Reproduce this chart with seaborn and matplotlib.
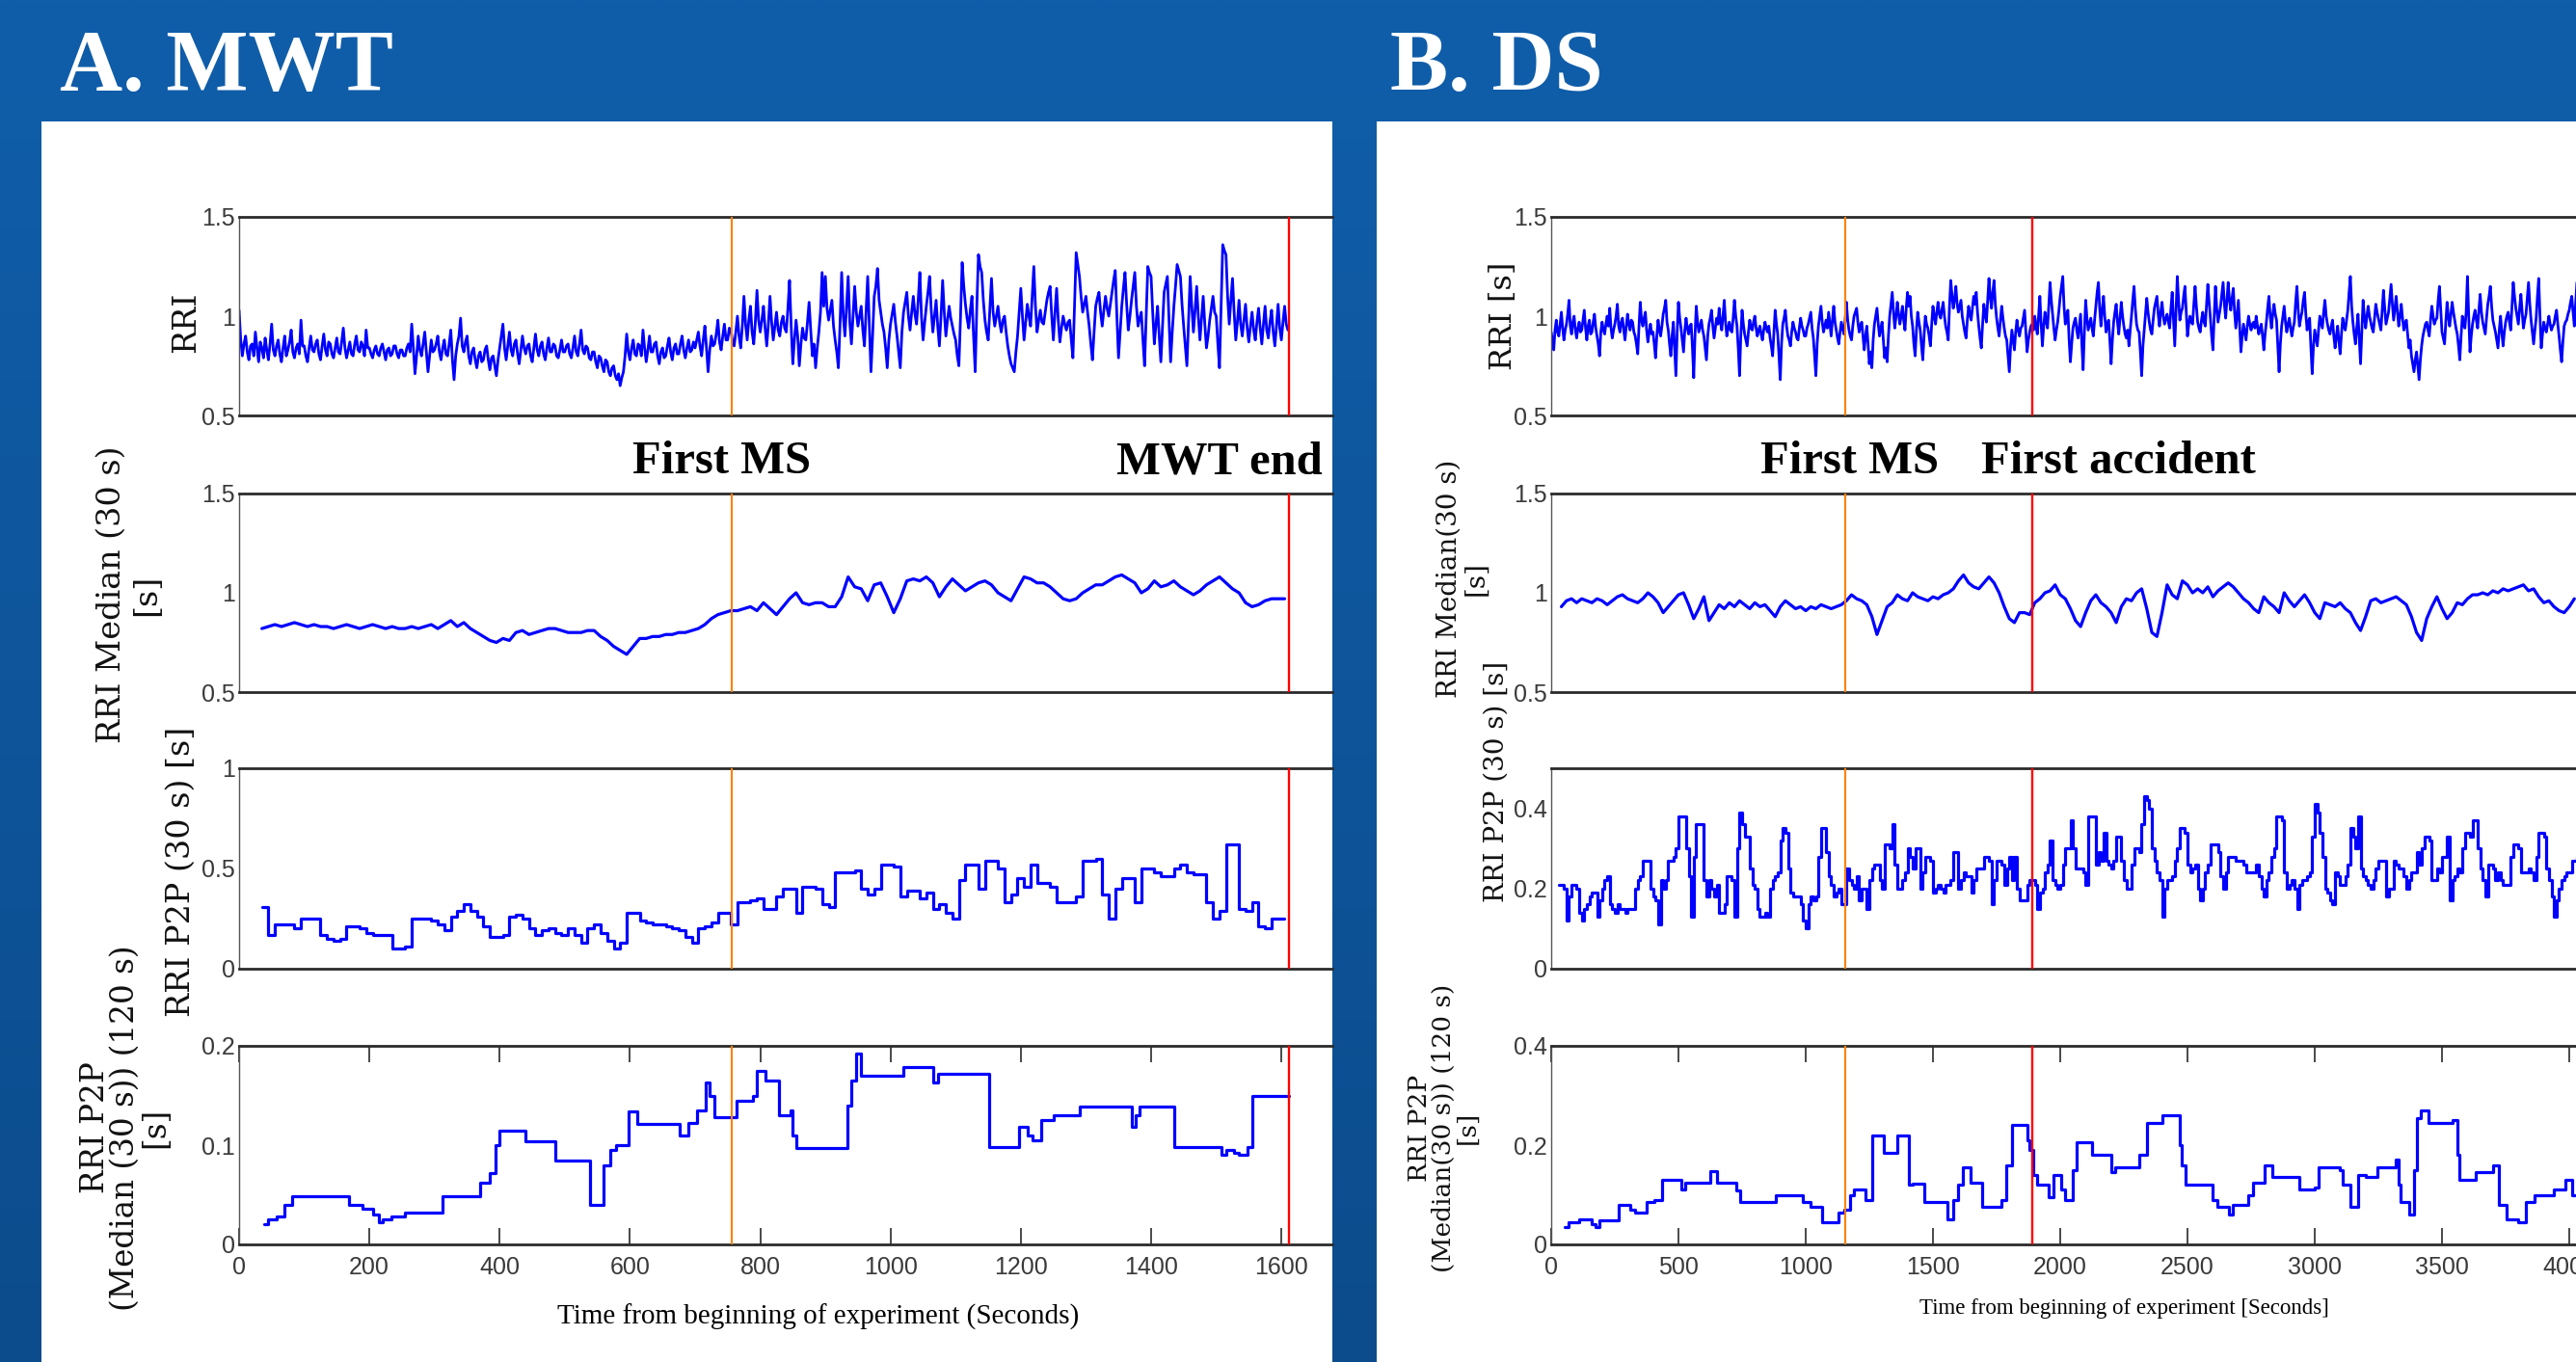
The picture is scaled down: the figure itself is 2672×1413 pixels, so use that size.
import numpy as np
import matplotlib
matplotlib.use("Agg")
import matplotlib.pyplot as plt
from matplotlib import font_manager as fm
from matplotlib.patches import Rectangle
import seaborn as sns

W, H, DPI = 2672, 1413, 100

# ======================= DATA =======================
# ---- Panel A (MWT) ----
A_FIRST_MS = 756
A_MWT_END = 1611

A_RRI_T0, A_RRI_DT = 0, 2.5
A_RRI = [
    1.03, 0.88, 0.80, 0.86, 0.90, 0.82, 0.78, 0.85, 0.86, 0.80, 0.92, 0.84, 0.77, 0.87, 0.84, 0.79, 0.89, 0.83, 0.78, 0.86,
    0.96, 0.83, 0.80, 0.85, 0.88, 0.81, 0.77, 0.84, 0.90, 0.80, 0.83, 0.87, 0.93, 0.82, 0.79, 0.84, 0.86, 0.81, 0.98, 0.85,
    0.85, 0.80, 0.77, 0.84, 0.90, 0.83, 0.82, 0.86, 0.88, 0.81, 0.78, 0.85, 0.91, 0.83, 0.80, 0.87, 0.86, 0.81, 0.79, 0.84,
    0.89, 0.82, 0.81, 0.87, 0.94, 0.84, 0.79, 0.83, 0.87, 0.81, 0.80, 0.86, 0.90, 0.83, 0.82, 0.87, 0.85, 0.80, 0.93, 0.84,
    0.84, 0.81, 0.79, 0.83, 0.85, 0.81, 0.80, 0.84, 0.86, 0.82, 0.78, 0.83, 0.84, 0.80, 0.81, 0.85, 0.85, 0.81, 0.79, 0.83,
    0.83, 0.80, 0.80, 0.84, 0.86, 0.82, 0.96, 0.84, 0.71, 0.80, 0.90, 0.83, 0.80, 0.86, 0.92, 0.82, 0.72, 0.80, 0.88, 0.82,
    0.83, 0.86, 0.90, 0.82, 0.78, 0.84, 0.88, 0.81, 0.80, 0.86, 0.93, 0.78, 0.68, 0.80, 0.86, 0.90, 0.99, 0.85, 0.82, 0.87,
    0.90, 0.80, 0.76, 0.82, 0.84, 0.78, 0.74, 0.80, 0.82, 0.77, 0.78, 0.83, 0.85, 0.78, 0.73, 0.79, 0.80, 0.75, 0.70, 0.78,
    0.84, 0.90, 0.96, 0.84, 0.78, 0.85, 0.92, 0.83, 0.80, 0.86, 0.88, 0.81, 0.76, 0.83, 0.90, 0.84, 0.81, 0.85, 0.86, 0.80,
    0.77, 0.84, 0.91, 0.83, 0.80, 0.85, 0.87, 0.81, 0.78, 0.84, 0.89, 0.82, 0.82, 0.86, 0.85, 0.80, 0.79, 0.83, 0.88, 0.82,
    0.82, 0.85, 0.86, 0.81, 0.79, 0.84, 0.90, 0.82, 0.80, 0.86, 0.93, 0.83, 0.81, 0.85, 0.84, 0.79, 0.78, 0.82, 0.82, 0.77,
    0.74, 0.80, 0.79, 0.75, 0.72, 0.78, 0.77, 0.72, 0.70, 0.74, 0.75, 0.70, 0.68, 0.71, 0.65, 0.69, 0.72, 0.80, 0.91, 0.82,
    0.78, 0.84, 0.88, 0.81, 0.80, 0.86, 0.85, 0.80, 0.93, 0.84, 0.77, 0.83, 0.90, 0.82, 0.82, 0.86, 0.87, 0.80, 0.76, 0.82,
    0.84, 0.79, 0.80, 0.85, 0.89, 0.82, 0.78, 0.84, 0.86, 0.81, 0.81, 0.86, 0.90, 0.83, 0.79, 0.84, 0.88, 0.82, 0.83, 0.87,
    0.84, 0.88, 0.92, 0.85, 0.80, 0.88, 0.95, 0.84, 0.72, 0.83, 0.90, 0.85, 0.86, 0.91, 0.98, 0.87, 0.83, 0.90, 0.96, 0.88,
    0.88, 0.94, 0.93, 0.87, 0.85, 0.92, 1.00, 0.90, 0.84, 0.95, 1.10, 0.96, 0.88, 0.98, 1.05, 0.92, 0.86, 0.97, 1.13, 0.98,
    0.92, 0.98, 1.05, 0.94, 0.85, 0.96, 1.10, 0.97, 0.88, 0.95, 1.02, 0.93, 0.90, 0.97, 1.00, 0.94, 0.92, 1.04, 1.18, 0.95,
    0.76, 0.88, 0.98, 0.90, 0.75, 0.86, 0.94, 0.89, 0.88, 0.97, 1.07, 0.93, 0.80, 0.86, 0.74, 0.84, 0.92, 1.02, 1.22, 1.05,
    1.20, 1.04, 0.98, 1.03, 1.08, 0.95, 0.88, 0.82, 0.74, 0.96, 1.22, 1.00, 0.90, 1.05, 1.20, 0.97, 0.86, 1.00, 1.15, 1.02,
    0.95, 1.00, 1.05, 0.93, 0.85, 1.02, 1.20, 0.95, 0.72, 0.90, 1.10, 1.15, 1.24, 1.08, 1.02, 0.96, 0.92, 0.84, 0.74, 0.88,
    0.96, 1.01, 1.06, 0.97, 0.90, 0.82, 0.74, 0.92, 1.02, 1.07, 1.12, 1.00, 0.93, 1.02, 1.10, 1.01, 0.96, 1.08, 1.22, 1.00,
    0.88, 0.97, 1.05, 1.12, 1.20, 1.03, 0.92, 1.00, 1.08, 0.95, 0.85, 1.00, 1.18, 1.02, 0.90, 0.98, 1.05, 0.99, 0.95, 0.91,
    0.88, 0.80, 0.75, 1.00, 1.27, 1.15, 1.06, 0.99, 0.94, 1.03, 1.10, 0.90, 0.72, 1.05, 1.31, 1.25, 1.22, 1.08, 0.98, 0.92,
    0.88, 1.04, 1.19, 1.02, 0.95, 1.00, 1.05, 0.97, 0.92, 0.98, 1.00, 0.92, 0.85, 0.80, 0.76, 0.74, 0.72, 0.82, 0.90, 1.02,
    1.14, 1.00, 0.88, 0.97, 1.06, 1.00, 0.95, 1.10, 1.25, 1.05, 0.92, 0.98, 1.03, 0.97, 0.96, 1.02, 1.08, 1.12, 1.15, 1.00,
    0.88, 1.02, 1.14, 0.98, 0.87, 0.94, 1.00, 0.96, 0.93, 0.97, 0.98, 0.88, 0.79, 1.05, 1.32, 1.26, 1.20, 1.10, 1.02, 1.06,
    1.10, 1.02, 0.95, 0.86, 0.78, 0.92, 1.05, 1.09, 1.12, 1.02, 0.95, 1.03, 1.10, 1.04, 1.00, 1.06, 1.12, 1.18, 1.23, 1.00,
    0.79, 0.92, 1.05, 1.14, 1.22, 1.06, 0.93, 1.00, 1.08, 1.15, 1.22, 1.05, 0.95, 0.99, 1.02, 0.88, 0.75, 1.00, 1.25, 1.22,
    1.20, 1.02, 0.86, 0.96, 1.05, 0.90, 0.77, 0.95, 1.12, 1.16, 1.20, 0.98, 0.77, 0.92, 1.05, 1.15, 1.26, 1.23, 1.20, 1.06,
    0.95, 0.85, 0.75, 0.98, 1.20, 1.05, 0.92, 1.03, 1.15, 1.00, 0.88, 0.99, 1.10, 0.96, 0.84, 0.90, 0.98, 1.04, 1.10, 1.02,
    1.00, 0.86, 0.74, 1.05, 1.36, 1.33, 1.31, 1.10, 0.96, 1.08, 1.19, 1.02, 0.88, 0.97, 1.08, 0.96, 0.90, 0.98, 1.06, 0.94,
    0.87, 0.95, 1.02, 0.93, 0.88, 0.97, 1.04, 0.94, 0.86, 0.96, 1.05, 0.93, 0.89, 0.97, 1.03, 0.92, 0.85, 0.95, 1.06, 0.94,
    0.88, 0.97, 1.05, 0.96, 0.93,
]

A_MED_T0, A_MED_DT = 35, 10
A_MED = [
    0.82, 0.83, 0.84, 0.83, 0.84, 0.85, 0.84, 0.83, 0.84, 0.83,
    0.83, 0.82, 0.83, 0.84, 0.83, 0.82, 0.83, 0.84, 0.83, 0.82,
    0.83, 0.82, 0.82, 0.83, 0.82, 0.83, 0.84, 0.82, 0.84, 0.86,
    0.83, 0.85, 0.82, 0.80, 0.78, 0.76, 0.75, 0.77, 0.76, 0.80,
    0.81, 0.79, 0.80, 0.81, 0.82, 0.82, 0.81, 0.80, 0.80, 0.80,
    0.81, 0.81, 0.78, 0.76, 0.73, 0.71, 0.69, 0.73, 0.77, 0.77,
    0.78, 0.78, 0.79, 0.79, 0.80, 0.80, 0.81, 0.82, 0.84, 0.87,
    0.89, 0.90, 0.91, 0.91, 0.92, 0.93, 0.91, 0.95, 0.92, 0.89,
    0.93, 0.97, 1.00, 0.95, 0.94, 0.95, 0.95, 0.93, 0.93, 0.98,
    1.08, 1.03, 1.02, 0.96, 1.04, 1.05, 0.98, 0.90, 0.97, 1.06,
    1.07, 1.06, 1.08, 1.05, 0.98, 1.03, 1.07, 1.04, 1.01, 1.03,
    1.05, 1.06, 1.04, 1.00, 0.98, 0.96, 1.02, 1.08, 1.07, 1.05,
    1.05, 1.03, 1.00, 0.97, 0.96, 0.97, 1.00, 1.02, 1.04, 1.04,
    1.06, 1.08, 1.09, 1.07, 1.05, 1.00, 1.02, 1.06, 1.03, 1.04,
    1.06, 1.03, 1.01, 0.99, 1.01, 1.04, 1.06, 1.08, 1.05, 1.02,
    1.00, 0.95, 0.93, 0.94, 0.96, 0.97, 0.97, 0.97,
]

A_P2P_T0, A_P2P_DT = 35, 10
A_P2P = [
    0.31, 0.17, 0.22, 0.22, 0.22, 0.20, 0.25, 0.25, 0.25, 0.17,
    0.15, 0.14, 0.15, 0.21, 0.21, 0.20, 0.18, 0.17, 0.17, 0.17,
    0.10, 0.10, 0.11, 0.25, 0.25, 0.25, 0.24, 0.22, 0.19, 0.26,
    0.29, 0.32, 0.29, 0.26, 0.21, 0.16, 0.16, 0.17, 0.26, 0.27,
    0.25, 0.20, 0.17, 0.19, 0.20, 0.18, 0.17, 0.20, 0.17, 0.13,
    0.20, 0.22, 0.18, 0.14, 0.10, 0.13, 0.28, 0.28, 0.24, 0.23,
    0.22, 0.22, 0.21, 0.20, 0.19, 0.16, 0.13, 0.20, 0.21, 0.23,
    0.28, 0.28, 0.22, 0.33, 0.33, 0.34, 0.35, 0.30, 0.30, 0.36,
    0.40, 0.40, 0.28, 0.41, 0.41, 0.40, 0.32, 0.31, 0.48, 0.48,
    0.48, 0.49, 0.40, 0.37, 0.40, 0.52, 0.52, 0.51, 0.36, 0.39,
    0.39, 0.35, 0.38, 0.30, 0.32, 0.28, 0.25, 0.44, 0.52, 0.52,
    0.40, 0.54, 0.54, 0.50, 0.33, 0.37, 0.45, 0.41, 0.52, 0.43,
    0.43, 0.41, 0.33, 0.33, 0.33, 0.36, 0.54, 0.54, 0.55, 0.37,
    0.25, 0.40, 0.45, 0.45, 0.33, 0.50, 0.50, 0.48, 0.46, 0.46,
    0.50, 0.52, 0.48, 0.47, 0.47, 0.33, 0.25, 0.29, 0.62, 0.62,
    0.30, 0.29, 0.33, 0.21, 0.20, 0.25, 0.25, 0.25,
]

A_P2P120_T = [38, 45, 58, 70, 82, 168, 190, 205, 215, 221,
              234, 254, 313, 370, 385, 393, 400, 439, 485, 538,
              560, 570, 578, 598, 611, 677, 690, 703, 716, 722,
              730, 763, 789, 795, 808, 829, 846, 850, 855, 934,
              940, 947, 954, 1020, 1066, 1073, 1152, 1198, 1211, 1218,
              1231, 1251, 1290, 1370, 1376, 1383, 1435, 1508, 1515, 1528,
              1535, 1548, 1555, 1611]
A_P2P120_V = [0.020, 0.025, 0.028, 0.040, 0.049, 0.040, 0.036, 0.030, 0.022, 0.025,
              0.028, 0.032, 0.049, 0.062, 0.072, 0.100, 0.115, 0.104, 0.084, 0.040,
              0.080, 0.095, 0.100, 0.134, 0.121, 0.110, 0.122, 0.135, 0.163, 0.150,
              0.128, 0.145, 0.150, 0.175, 0.165, 0.130, 0.135, 0.110, 0.097, 0.140,
              0.165, 0.192, 0.170, 0.179, 0.163, 0.172, 0.098, 0.118, 0.110, 0.105,
              0.125, 0.130, 0.139, 0.118, 0.130, 0.139, 0.098, 0.090, 0.095, 0.092,
              0.090, 0.098, 0.150, 0.150]

# ---- Panel B (DS) ----
B_FIRST_MS = 1157
B_FIRST_ACC = 1890

B_RRI_T0, B_RRI_DT = 0, 5
B_RRI = [
    0.92, 0.88, 0.83, 0.93, 0.98, 0.92, 0.90, 0.96, 1.02, 0.94, 0.88, 0.93, 0.96, 1.01, 1.08, 0.95, 0.91, 0.97, 1.00, 0.93,
    0.89, 0.94, 0.97, 0.92, 0.93, 0.98, 1.03, 0.94, 0.88, 0.95, 0.98, 0.91, 0.92, 0.97, 1.01, 0.94, 0.90, 0.86, 0.80, 0.92,
    0.97, 0.93, 0.91, 0.96, 1.00, 0.95, 1.04, 0.94, 0.89, 0.93, 0.96, 1.00, 1.06, 0.95, 0.92, 0.97, 0.99, 0.93, 0.88, 0.95,
    1.01, 0.96, 0.93, 0.98, 0.97, 0.92, 0.90, 0.86, 0.81, 0.95, 1.07, 0.98, 0.95, 0.99, 1.02, 0.93, 0.87, 0.92, 0.96, 0.91,
    0.92, 0.86, 0.79, 0.90, 0.98, 0.93, 0.90, 0.95, 1.01, 1.04, 1.08, 0.97, 0.93, 0.86, 0.80, 0.90, 0.97, 0.84, 0.70, 0.92,
    1.07, 0.99, 0.94, 0.88, 0.82, 0.93, 0.99, 0.94, 0.91, 0.95, 0.96, 0.84, 0.69, 0.90, 1.05, 0.97, 0.92, 0.95, 0.98, 0.93,
    0.90, 0.84, 0.78, 0.90, 0.96, 0.99, 1.03, 0.95, 0.89, 0.94, 0.99, 0.96, 1.04, 0.97, 0.93, 1.00, 1.08, 0.97, 0.90, 0.94,
    0.97, 0.93, 0.92, 0.99, 1.08, 1.00, 0.95, 0.84, 0.70, 0.90, 1.03, 0.96, 0.91, 0.88, 0.85, 0.92, 0.98, 0.94, 0.93, 0.97,
    1.00, 0.94, 0.90, 0.93, 0.95, 0.91, 0.88, 0.93, 0.97, 0.94, 0.92, 0.95, 0.89, 0.85, 0.80, 0.92, 1.03, 0.96, 0.91, 0.80,
    0.68, 0.86, 0.96, 0.99, 1.03, 0.95, 0.90, 0.88, 0.85, 0.92, 0.97, 0.94, 0.92, 0.89, 0.88, 0.94, 0.99, 0.95, 0.93, 0.90,
    0.90, 0.94, 0.96, 0.99, 1.02, 0.94, 0.89, 0.80, 0.70, 0.86, 0.95, 1.00, 1.05, 0.97, 0.92, 0.95, 0.98, 0.94, 1.02, 0.96,
    0.90, 0.98, 1.05, 0.97, 0.93, 0.89, 0.86, 0.92, 0.97, 0.94, 0.91, 0.98, 1.07, 0.98, 0.93, 0.90, 0.88, 0.95, 1.00, 1.02,
    1.04, 0.97, 0.92, 0.95, 0.97, 0.90, 0.83, 0.90, 0.95, 0.86, 0.76, 0.82, 0.74, 0.88, 0.96, 1.00, 1.04, 0.96, 0.90, 0.94,
    0.97, 0.88, 0.79, 0.84, 0.77, 0.90, 1.00, 1.06, 1.12, 1.02, 0.94, 1.00, 1.07, 1.01, 0.96, 1.00, 1.05, 0.98, 0.93, 1.04,
    1.12, 1.05, 1.10, 1.00, 0.95, 0.86, 0.80, 0.93, 1.02, 0.97, 0.93, 0.85, 0.78, 0.90, 1.00, 0.96, 0.94, 0.90, 0.85, 0.96,
    1.05, 1.00, 0.96, 1.02, 1.07, 1.01, 0.99, 1.03, 1.07, 1.00, 0.95, 0.92, 0.88, 1.05, 1.18, 1.10, 1.04, 1.09, 1.15, 1.06,
    1.02, 1.05, 1.08, 1.00, 0.96, 0.92, 0.89, 0.98, 1.05, 1.01, 0.98, 1.04, 1.10, 1.06, 1.12, 1.02, 0.95, 0.89, 0.84, 0.96,
    1.06, 1.01, 0.97, 1.08, 1.19, 1.10, 1.04, 1.12, 1.18, 1.06, 0.99, 0.94, 0.90, 0.98, 1.05, 0.99, 0.94, 0.90, 0.88, 0.80,
    0.72, 0.85, 0.93, 0.88, 0.83, 0.92, 0.98, 0.93, 0.90, 0.94, 0.95, 0.99, 1.03, 0.92, 0.82, 0.88, 0.92, 0.95, 0.96, 0.93,
    1.00, 0.95, 0.91, 1.00, 1.10, 0.96, 0.85, 0.95, 1.02, 0.97, 0.94, 1.05, 1.17, 1.08, 1.01, 0.94, 0.88, 0.93, 0.97, 1.03,
    1.10, 1.15, 1.20, 1.05, 0.96, 1.00, 1.03, 0.88, 0.77, 0.86, 0.94, 0.97, 0.99, 0.93, 0.89, 0.95, 1.01, 0.86, 0.73, 0.92,
    1.08, 0.99, 0.93, 0.96, 0.99, 0.94, 0.90, 0.98, 1.05, 1.12, 1.17, 1.04, 0.95, 1.03, 1.10, 1.00, 0.92, 0.96, 0.98, 0.88,
    0.76, 0.88, 0.97, 1.02, 1.06, 0.97, 0.91, 0.99, 1.07, 1.00, 0.95, 0.91, 0.89, 0.93, 0.85, 0.93, 1.00, 1.08, 1.15, 1.04,
    0.96, 0.93, 0.92, 0.82, 0.70, 0.85, 0.93, 1.01, 1.09, 1.02, 0.97, 0.93, 0.91, 0.98, 1.04, 1.07, 1.10, 1.01, 0.95, 1.02,
    1.07, 1.00, 0.96, 0.99, 1.01, 0.97, 0.94, 1.04, 1.12, 0.98, 0.85, 1.02, 1.20, 1.08, 0.98, 1.02, 1.04, 1.10, 1.15, 1.02,
    0.90, 0.96, 1.00, 0.97, 0.96, 1.06, 1.15, 1.05, 0.97, 0.94, 0.92, 0.98, 1.02, 0.97, 0.95, 1.06, 1.16, 1.07, 0.99, 0.90,
    0.83, 1.00, 1.15, 1.04, 0.97, 1.01, 1.05, 1.11, 1.17, 1.06, 0.99, 1.08, 1.17, 1.08, 1.03, 1.09, 1.14, 1.02, 0.94, 1.01,
    1.08, 0.95, 0.82, 0.90, 0.96, 0.92, 0.88, 0.95, 1.00, 0.96, 0.93, 0.96, 0.97, 0.94, 1.00, 0.95, 0.91, 0.94, 0.96, 0.90,
    0.83, 0.91, 0.97, 1.04, 1.10, 1.00, 0.94, 1.01, 1.06, 1.01, 0.98, 0.85, 0.72, 0.86, 0.95, 1.00, 1.05, 0.97, 0.92, 0.96,
    0.99, 0.94, 0.90, 0.94, 0.97, 1.07, 1.15, 1.03, 0.95, 0.99, 1.02, 1.08, 1.12, 1.01, 0.93, 0.97, 0.99, 0.84, 0.71, 0.85,
    0.93, 0.89, 0.85, 0.93, 1.00, 0.97, 0.94, 1.02, 1.08, 1.00, 0.96, 0.93, 0.91, 0.95, 0.98, 0.90, 0.84, 0.90, 0.95, 0.87,
    0.81, 0.91, 0.99, 0.95, 0.93, 0.98, 1.03, 1.12, 1.20, 1.05, 0.97, 0.91, 0.86, 0.94, 1.01, 0.88, 0.76, 0.92, 1.08, 1.00,
    0.94, 1.00, 1.05, 1.00, 0.97, 0.94, 0.92, 0.99, 1.06, 1.02, 0.99, 0.96, 0.93, 1.03, 1.13, 1.04, 0.96, 0.99, 1.02, 1.09,
    1.16, 1.06, 0.98, 1.04, 1.10, 1.02, 0.95, 1.00, 1.06, 0.99, 0.93, 0.96, 0.98, 0.91, 0.84, 0.88, 0.80, 0.76, 0.72, 0.78,
    0.82, 0.75, 0.68, 0.78, 0.85, 0.90, 0.93, 0.96, 0.97, 0.93, 0.90, 0.98, 1.05, 1.00, 0.96, 0.98, 0.99, 1.08, 1.15, 1.03,
    0.92, 0.89, 0.86, 0.97, 1.07, 1.00, 0.95, 1.01, 1.07, 1.02, 0.98, 0.94, 0.91, 0.85, 0.78, 0.90, 1.00, 0.96, 0.94, 1.02,
    1.20, 1.00, 0.82, 0.90, 0.96, 1.00, 1.03, 0.98, 0.94, 1.03, 1.11, 1.02, 0.97, 0.94, 0.91, 0.99, 1.06, 1.10, 1.15, 1.05,
    0.98, 0.95, 0.92, 0.88, 0.84, 0.93, 1.00, 0.92, 0.85, 0.92, 0.97, 1.00, 1.02, 0.97, 0.93, 1.05, 1.17, 1.10, 1.04, 1.00,
    0.96, 1.04, 1.11, 1.02, 0.94, 0.98, 1.01, 1.09, 1.17, 1.06, 0.98, 0.92, 0.86, 0.93, 0.99, 1.10, 1.19, 1.00, 0.84, 0.91,
    0.97, 0.94, 0.92, 0.96, 1.00, 0.96, 0.93, 0.95, 0.96, 1.00, 1.03, 0.96, 0.90, 0.83, 0.77, 0.87, 0.95, 0.97, 0.98, 1.01,
    1.03, 1.07, 1.10, 1.02, 0.95, 1.06, 1.17,
]

B_MED_T0, B_MED_DT = 40, 20
B_MED = [
    0.93, 0.96, 0.97, 0.95, 0.97, 0.96, 0.95, 0.97, 0.96, 0.94,
    0.96, 0.98, 0.99, 0.97, 0.96, 0.95, 0.97, 1.00, 0.98, 0.95,
    0.90, 0.93, 0.96, 0.99, 1.00, 0.94, 0.87, 0.92, 0.98, 0.86,
    0.90, 0.94, 0.92, 0.95, 0.93, 0.96, 0.94, 0.92, 0.95, 0.93,
    0.94, 0.91, 0.88, 0.93, 0.96, 0.94, 0.92, 0.93, 0.91, 0.93,
    0.92, 0.94, 0.93, 0.92, 0.93, 0.94, 0.96, 0.99, 0.97, 0.96,
    0.94, 0.88, 0.79, 0.86, 0.93, 0.95, 0.99, 0.97, 0.96, 1.00,
    0.98, 0.97, 0.96, 0.98, 0.97, 0.99, 1.00, 1.02, 1.06, 1.09,
    1.05, 1.03, 1.02, 1.05, 1.08, 1.05, 1.00, 0.93, 0.87, 0.85,
    0.90, 0.90, 0.89, 0.95, 0.97, 1.00, 1.01, 1.04, 0.99, 0.97,
    0.92, 0.86, 0.83, 0.90, 0.96, 0.99, 0.95, 0.93, 0.90, 0.85,
    0.93, 0.97, 0.96, 1.00, 1.02, 0.92, 0.80, 0.78, 0.90, 1.04,
    0.99, 0.97, 1.06, 1.04, 1.00, 1.02, 1.00, 1.03, 0.98, 1.01,
    1.03, 1.05, 1.03, 1.00, 0.97, 0.95, 0.92, 0.90, 0.98, 0.95,
    0.93, 0.90, 1.00, 0.96, 0.93, 0.96, 0.99, 0.95, 0.90, 0.87,
    0.95, 0.94, 0.93, 0.95, 0.92, 0.90, 0.85, 0.81, 0.88, 0.96,
    0.97, 0.95, 0.96, 0.97, 0.98, 0.96, 0.94, 0.88, 0.80, 0.76,
    0.87, 0.93, 0.98, 0.92, 0.87, 0.90, 0.95, 0.94, 0.97, 0.99,
    0.99, 1.00, 0.99, 1.01, 1.00, 1.02, 1.01, 1.02, 1.03, 1.04,
    1.01, 1.02, 0.98, 0.95, 0.96, 0.93, 0.91, 0.90, 0.93, 0.97,
]

B_P2P_T0, B_P2P_DT = 30, 10
B_P2P = [
    0.21, 0.21, 0.20, 0.12, 0.18, 0.21, 0.21, 0.20, 0.14, 0.12, 0.15, 0.16, 0.18, 0.19, 0.19, 0.13, 0.17, 0.20, 0.22, 0.23,
    0.16, 0.15, 0.14, 0.16, 0.15, 0.15, 0.14, 0.15, 0.15, 0.15, 0.20, 0.22, 0.23, 0.27, 0.27, 0.27, 0.20, 0.18, 0.17, 0.11,
    0.22, 0.20, 0.22, 0.27, 0.27, 0.28, 0.30, 0.38, 0.38, 0.38, 0.30, 0.23, 0.13, 0.28, 0.36, 0.36, 0.36, 0.22, 0.18, 0.22,
    0.20, 0.18, 0.21, 0.14, 0.14, 0.16, 0.23, 0.23, 0.22, 0.13, 0.30, 0.39, 0.36, 0.33, 0.33, 0.25, 0.21, 0.20, 0.15, 0.13,
    0.13, 0.14, 0.13, 0.20, 0.22, 0.23, 0.24, 0.32, 0.35, 0.34, 0.25, 0.19, 0.18, 0.18, 0.18, 0.16, 0.12, 0.10, 0.16, 0.18,
    0.17, 0.18, 0.28, 0.35, 0.35, 0.29, 0.23, 0.21, 0.18, 0.19, 0.20, 0.16, 0.16, 0.25, 0.22, 0.21, 0.20, 0.23, 0.17, 0.20,
    0.20, 0.15, 0.22, 0.25, 0.26, 0.26, 0.22, 0.20, 0.31, 0.31, 0.30, 0.36, 0.26, 0.20, 0.20, 0.22, 0.24, 0.30, 0.28, 0.25,
    0.30, 0.30, 0.20, 0.24, 0.28, 0.28, 0.27, 0.19, 0.20, 0.21, 0.20, 0.19, 0.21, 0.21, 0.22, 0.29, 0.29, 0.20, 0.22, 0.24,
    0.23, 0.23, 0.19, 0.22, 0.25, 0.25, 0.25, 0.28, 0.28, 0.27, 0.16, 0.22, 0.27, 0.27, 0.26, 0.21, 0.25, 0.28, 0.22, 0.28,
    0.20, 0.17, 0.17, 0.17, 0.21, 0.22, 0.22, 0.21, 0.15, 0.19, 0.20, 0.24, 0.26, 0.32, 0.22, 0.21, 0.20, 0.21, 0.26, 0.30,
    0.30, 0.37, 0.30, 0.25, 0.25, 0.25, 0.24, 0.21, 0.38, 0.38, 0.38, 0.26, 0.29, 0.27, 0.34, 0.27, 0.26, 0.25, 0.27, 0.33,
    0.33, 0.27, 0.22, 0.20, 0.20, 0.26, 0.30, 0.30, 0.29, 0.36, 0.43, 0.42, 0.40, 0.30, 0.27, 0.24, 0.22, 0.13, 0.20, 0.22,
    0.22, 0.23, 0.27, 0.30, 0.35, 0.35, 0.34, 0.26, 0.24, 0.25, 0.26, 0.20, 0.17, 0.20, 0.24, 0.26, 0.31, 0.31, 0.31, 0.29,
    0.23, 0.20, 0.24, 0.28, 0.28, 0.28, 0.27, 0.27, 0.27, 0.26, 0.24, 0.24, 0.24, 0.24, 0.26, 0.23, 0.20, 0.18, 0.22, 0.24,
    0.28, 0.30, 0.38, 0.38, 0.37, 0.24, 0.20, 0.21, 0.22, 0.20, 0.15, 0.21, 0.22, 0.22, 0.23, 0.24, 0.33, 0.41, 0.39, 0.34,
    0.28, 0.20, 0.19, 0.17, 0.16, 0.24, 0.23, 0.21, 0.21, 0.23, 0.26, 0.35, 0.33, 0.30, 0.38, 0.25, 0.23, 0.22, 0.21, 0.20,
    0.22, 0.25, 0.27, 0.27, 0.27, 0.18, 0.20, 0.20, 0.27, 0.26, 0.25, 0.25, 0.23, 0.20, 0.22, 0.24, 0.24, 0.29, 0.26, 0.30,
    0.33, 0.33, 0.32, 0.22, 0.22, 0.25, 0.24, 0.28, 0.28, 0.33, 0.17, 0.22, 0.23, 0.25, 0.24, 0.30, 0.34, 0.34, 0.33, 0.37,
    0.37, 0.30, 0.25, 0.22, 0.18, 0.26, 0.26, 0.25, 0.22, 0.24, 0.22, 0.21, 0.21, 0.21, 0.28, 0.31, 0.31, 0.30, 0.24, 0.24,
    0.24, 0.25, 0.24, 0.22, 0.28, 0.34, 0.34, 0.33, 0.25, 0.22, 0.18, 0.13, 0.17, 0.20, 0.22, 0.23, 0.24, 0.24, 0.27, 0.27,
    0.28,
]

B_P2P120_T = [53, 68, 108, 160, 175, 191, 267, 310, 328, 375,
              405, 436, 513, 528, 626, 651, 728, 743, 881, 989,
              1019, 1066, 1127, 1152, 1173, 1188, 1235, 1260, 1305, 1358,
              1404, 1419, 1465, 1557, 1578, 1600, 1618, 1649, 1695, 1770,
              1787, 1812, 1870, 1880, 1895, 1910, 1956, 1972, 2005, 2018,
              2050, 2064, 2125, 2202, 2217, 2310, 2340, 2402, 2470, 2478,
              2494, 2600, 2617, 2663, 2679, 2740, 2756, 2802, 2833, 2940,
              3000, 3017, 3100, 3109, 3140, 3171, 3201, 3247, 3318, 3330,
              3339, 3370, 3390, 3401, 3416, 3447, 3540, 3560, 3570, 3631,
              3700, 3723, 3754, 3800, 3831, 3862, 3938, 3984, 4010, 4030]
B_P2P120_V = [0.035, 0.045, 0.050, 0.040, 0.035, 0.048, 0.080, 0.070, 0.065, 0.085,
              0.090, 0.130, 0.110, 0.125, 0.148, 0.125, 0.108, 0.085, 0.100, 0.085,
              0.075, 0.045, 0.065, 0.070, 0.100, 0.110, 0.090, 0.220, 0.185, 0.220,
              0.120, 0.123, 0.085, 0.050, 0.090, 0.120, 0.155, 0.125, 0.075, 0.090,
              0.160, 0.240, 0.210, 0.190, 0.140, 0.120, 0.095, 0.140, 0.110, 0.090,
              0.150, 0.205, 0.180, 0.145, 0.155, 0.180, 0.245, 0.260, 0.200, 0.160,
              0.120, 0.090, 0.075, 0.060, 0.080, 0.100, 0.125, 0.160, 0.135, 0.110,
              0.115, 0.155, 0.150, 0.120, 0.075, 0.140, 0.135, 0.155, 0.170, 0.120,
              0.085, 0.060, 0.150, 0.255, 0.270, 0.245, 0.250, 0.180, 0.130, 0.145,
              0.160, 0.080, 0.050, 0.045, 0.085, 0.100, 0.110, 0.130, 0.100, 0.100]

A_XTICKS = [0, 200, 400, 600, 800, 1000, 1200, 1400, 1600]
B_XTICKS = [0, 500, 1000, 1500, 2000, 2500, 3000, 3500, 4000]

# ======================= STYLE =======================
sns.set_style("white")
avail = {f.name for f in fm.fontManager.ttflist}
TICK_FONT = next((f for f in ["Liberation Sans Narrow", "DejaVu Sans Condensed", "Liberation Sans"]
                  if f in avail), "DejaVu Sans")
plt.rcParams["font.family"] = [TICK_FONT, "DejaVu Sans"]
SERIF_T = ["Liberation Serif", "DejaVu Serif"]
LABEL_F = ["DejaVu Serif"]

BLUE = "#0000FF"
ORANGE = "#FF8000"
RED = "#FF0000"

fig = plt.figure(figsize=(W / DPI, H / DPI), dpi=DPI)


def fy(y):
    return 1 - y / H


def rect(x0, x1, y0, y1):
    return [x0 / W, 1 - y1 / H, (x1 - x0) / W, (y1 - y0) / H]


# background gradient + white panels
bg = fig.add_axes([0, 0, 1, 1], zorder=-5)
bg.set_axis_off()
top = np.array([16, 94, 170]) / 255.0
bot = np.array([12, 76, 140]) / 255.0
g = np.linspace(0, 1, 256)[:, None, None]
img = top[None, None, :] + (bot - top)[None, None, :] * g
bg.imshow(img, aspect="auto", extent=[0, 1, 0, 1], interpolation="bilinear")
bg.set_xlim(0, 1)
bg.set_ylim(0, 1)
bg.add_patch(Rectangle((43 / W, 0), (1382 - 43) / W, 1 - 126 / H,
                       transform=bg.transAxes, facecolor="white", edgecolor="none"))
bg.add_patch(Rectangle((1428 / W, 0), (W - 1428) / W, 1 - 126 / H,
                       transform=bg.transAxes, facecolor="white", edgecolor="none"))

ROWS = [(225, 431), (512, 718), (797, 1005), (1085, 1291)]


def style(ax, xlim, ylim, yticks, ylabels, xticks=None, tick_size=18):
    ax.set_facecolor("white")
    ax.set_xlim(*xlim)
    ax.set_ylim(*ylim)
    ax.spines["right"].set_visible(False)
    for s in ("top", "bottom"):
        ax.spines[s].set_linewidth(2.0)
        ax.spines[s].set_color("#2a2a2a")
    ax.spines["left"].set_linewidth(1.0)
    ax.spines["left"].set_color("#555555")
    ax.set_yticks(yticks, ylabels)
    ax.tick_params(axis="y", direction="in", length=6, width=1.2, color="#2a2a2a",
                   pad=3, labelsize=tick_size, labelcolor="#3a3a3a", right=False)
    if xticks is None:
        ax.set_xticks([])
    else:
        ax.set_xticks(xticks, [str(v) for v in xticks])
        ax.tick_params(axis="x", direction="in", length=12, width=1.2, color="#2a2a2a",
                       top=True, bottom=True, pad=9, labelsize=tick_size, labelcolor="#3a3a3a")
    ax.set_xlabel("")
    ax.set_ylabel("")


def series_t(t0, dt, vals):
    return t0 + dt * np.arange(len(vals))


def draw(ax, t, v, steps=False, lw=2.3):
    t = np.asarray(t, dtype=float)
    v = np.asarray(v, dtype=float)
    n = min(len(t), len(v))
    kw = dict(drawstyle="steps-post") if steps else {}
    sns.lineplot(x=t[:n], y=v[:n], ax=ax, color=BLUE, linewidth=lw, estimator=None,
                 sort=False, zorder=2, **kw)


def events(ax, ms, end):
    ax.axvline(ms, color=ORANGE, lw=1.5, zorder=3)
    ax.axvline(end, color=RED, lw=1.7, zorder=3)


# ---------------- Panel A ----------------
A_X0, A_X1 = 248, 1382
A_XLIM = (0, (A_X1 - A_X0) / 0.6757)
axA = [fig.add_axes(rect(A_X0, A_X1, r0, r1)) for r0, r1 in ROWS]

draw(axA[0], series_t(A_RRI_T0, A_RRI_DT, A_RRI), A_RRI, lw=2.0)
draw(axA[1], series_t(A_MED_T0, A_MED_DT, A_MED), A_MED)
draw(axA[2], series_t(A_P2P_T0, A_P2P_DT, A_P2P), A_P2P, steps=True)
draw(axA[3], A_P2P120_T, A_P2P120_V, steps=True)

style(axA[0], A_XLIM, (0.5, 1.5), [0.5, 1, 1.5], ["0.5", "1", "1.5"])
style(axA[1], A_XLIM, (0.5, 1.5), [0.5, 1, 1.5], ["0.5", "1", "1.5"])
style(axA[2], A_XLIM, (0, 1), [0, 0.5, 1], ["0", "0.5", "1"])
style(axA[3], A_XLIM, (0, 0.2), [0, 0.1, 0.2], ["0", "0.1", "0.2"], xticks=A_XTICKS)
for ax in axA:
    events(ax, A_FIRST_MS, A_MWT_END)

# ---------------- Panel B ----------------
B_X0, B_X1 = 1609, 2672
B_XLIM = (0, (B_X1 - B_X0) / 0.264)
axB = [fig.add_axes(rect(B_X0, B_X1, r0, r1)) for r0, r1 in ROWS]

draw(axB[0], series_t(B_RRI_T0, B_RRI_DT, B_RRI), B_RRI, lw=2.0)
draw(axB[1], series_t(B_MED_T0, B_MED_DT, B_MED), B_MED)
draw(axB[2], series_t(B_P2P_T0, B_P2P_DT, B_P2P), B_P2P, steps=True)
draw(axB[3], B_P2P120_T, B_P2P120_V, steps=True)

style(axB[0], B_XLIM, (0.5, 1.5), [0.5, 1, 1.5], ["0.5", "1", "1.5"])
style(axB[1], B_XLIM, (0.5, 1.5), [0.5, 1, 1.5], ["0.5", "1", "1.5"])
style(axB[2], B_XLIM, (0, 0.5), [0, 0.2, 0.4], ["0", "0.2", "0.4"])
style(axB[3], B_XLIM, (0, 0.4), [0, 0.2, 0.4], ["0", "0.2", "0.4"], xticks=B_XTICKS)
for ax in axB:
    events(ax, B_FIRST_MS, B_FIRST_ACC)

# ---------------- Texts ----------------
fig.text(62 / W, fy(94), "A. MWT", fontsize=65, fontweight="bold", family=SERIF_T,
         color="white", ha="left", va="baseline")
fig.text(1442 / W, fy(94), "B. DS", fontsize=65, fontweight="bold", family=SERIF_T,
         color="white", ha="left", va="baseline")

for x, s in [(656, "First MS"), (1158, "MWT end"), (1826, "First MS"), (2055, "First accident")]:
    fig.text(x / W, fy(491), s, fontsize=35, fontweight="bold", family=SERIF_T,
             color="black", ha="left", va="baseline")

ylab = dict(rotation=90, ha="center", va="center", multialignment="center",
            family=LABEL_F, color="#111111")
fig.text(193 / W, fy(334), "RRI", fontsize=24, **ylab)
fig.text(134 / W, fy(617), "RRI Median (30 s)\n[s]", fontsize=24, linespacing=1.15, **ylab)
fig.text(188 / W, fy(904), "RRI P2P (30 s) [s]", fontsize=24, **ylab)
fig.text(130 / W, fy(1170), "RRI P2P\n(Median (30 s)) (120 s)\n[s]", fontsize=23.5,
         linespacing=0.98, **ylab)

fig.text(1560 / W, fy(328), "RRI [s]", fontsize=23, **ylab)
fig.text(1517 / W, fy(600), "RRI Median(30 s)\n[s]", fontsize=20, linespacing=1.05, **ylab)
fig.text(1552 / W, fy(811), "RRI P2P (30 s) [s]", fontsize=20, **ylab)
fig.text(1497 / W, fy(1170), "RRI P2P\n(Median(30 s)) (120 s)\n[s]", fontsize=19,
         linespacing=1.0, **ylab)

fig.text(849 / W, fy(1366), "Time from beginning of experiment (Seconds)", fontsize=21,
         family=SERIF_T, color="black", ha="center", va="center")
fig.text(2203 / W, fy(1357), "Time from beginning of experiment [Seconds]", fontsize=16.5,
         family=SERIF_T, color="black", ha="center", va="center")

fig.savefig("out.png", dpi=DPI)
